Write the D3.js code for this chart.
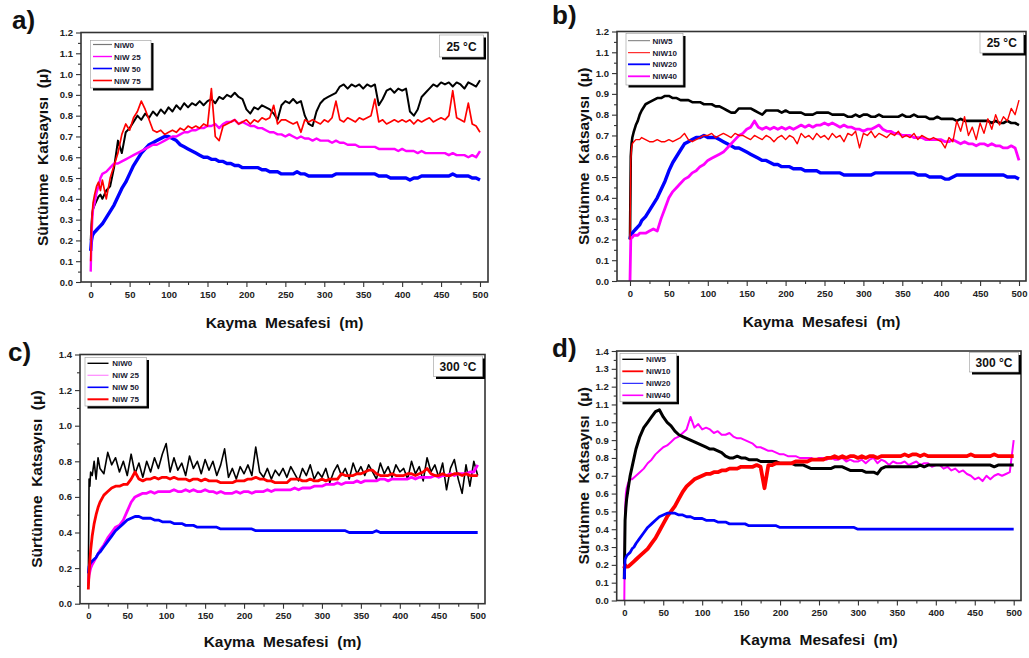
<!DOCTYPE html>
<html>
<head>
<meta charset="utf-8">
<script src="https://cdn.jsdelivr.net/npm/d3@7"></script>
<style>
  body { margin: 0; background: #fff; }
  svg { display: block; font-family: "Liberation Sans", Arial, sans-serif; font-weight: bold; }
</style>
</head>
<body>
<svg id="chart" width="1029" height="658"></svg>
<script>
// sliding distance (m), shared by every series
const dist = [0, 1, 2, 3, 5, 7.5, 10, 12.5, 15, 20, 25, 30, 35, 40, 45, 50,
  55, 60, 65, 70, 75, 80, 85, 90, 95, 100, 105, 110, 115, 120, 125, 130, 135, 140, 145, 150,
  155, 160, 165, 170, 175, 180, 185, 190, 195, 200, 205, 210, 215, 220, 225, 230, 235, 240, 245, 250,
  255, 260, 265, 270, 275, 280, 285, 290, 295, 300, 305, 310, 315, 320, 325, 330, 335, 340, 345, 350,
  355, 360, 365, 370, 375, 380, 385, 390, 395, 400, 405, 410, 415, 420, 425, 430, 435, 440, 445, 450,
  455, 460, 465, 470, 475, 480, 485, 490, 495, 500];

// a) 25 °C
const aNiW0 = [0.20,0.28,0.33,0.35,0.37,0.39,0.41,0.42,0.40,0.44,0.46,0.55,0.68,0.62,0.72,0.74,
  0.77,0.80,0.78,0.81,0.79,0.82,0.80,0.83,0.81,0.84, 0.82,0.85,0.83,0.86,0.84,0.86,0.85,0.87,0.85,0.87,
  0.88,0.86,0.89,0.88,0.90,0.89,0.91,0.89,0.88,0.83, 0.81,0.84,0.83,0.85,0.84,0.83,0.81,0.78,0.85,0.87,
  0.86,0.88,0.86,0.87,0.80,0.76,0.75,0.82,0.86,0.88, 0.89,0.90,0.91,0.94,0.95,0.93,0.95,0.94,0.95,0.93,
  0.95,0.94,0.95,0.85,0.88,0.92,0.93,0.91,0.93,0.92, 0.93,0.82,0.80,0.83,0.89,0.91,0.93,0.95,0.94,0.96,
  0.95,0.96,0.94,0.96,0.95,0.93,0.96,0.95,0.94,0.97];
const aNiW25 = [0.05,0.22,0.30,0.35,0.38,0.43,0.46,0.50,0.52,0.53,0.55,0.57,0.57,0.58,0.59,0.60,
  0.61,0.62,0.63,0.64,0.65,0.66,0.66,0.67,0.68,0.69, 0.70,0.70,0.71,0.72,0.72,0.73,0.73,0.74,0.74,0.75,
  0.75,0.76,0.74,0.76,0.77,0.77,0.78,0.76,0.77,0.76, 0.75,0.75,0.74,0.74,0.73,0.72,0.72,0.71,0.71,0.70,
  0.71,0.70,0.69,0.70,0.69,0.69,0.68,0.69,0.68,0.68, 0.68,0.67,0.68,0.67,0.67,0.66,0.66,0.66,0.65,0.65,
  0.65,0.65,0.65,0.64,0.64,0.64,0.64,0.64,0.63,0.64, 0.63,0.63,0.63,0.62,0.63,0.62,0.62,0.62,0.62,0.62,
  0.62,0.61,0.62,0.61,0.61,0.61,0.60,0.61,0.60,0.63];
const aNiW50 = [0.15,0.20,0.22,0.23,0.24,0.25,0.26,0.27,0.28,0.31,0.34,0.37,0.41,0.45,0.48,0.52,
  0.56,0.59,0.62,0.64,0.66,0.67,0.68,0.69,0.70,0.70, 0.69,0.68,0.66,0.65,0.64,0.63,0.62,0.61,0.60,0.60,
  0.59,0.59,0.58,0.58,0.57,0.57,0.56,0.56,0.55,0.55, 0.55,0.55,0.55,0.54,0.54,0.53,0.53,0.53,0.52,0.52,
  0.52,0.52,0.53,0.52,0.52,0.51,0.51,0.51,0.51,0.51, 0.51,0.51,0.52,0.52,0.52,0.52,0.52,0.52,0.52,0.52,
  0.52,0.52,0.52,0.51,0.51,0.51,0.50,0.50,0.50,0.50, 0.50,0.49,0.50,0.50,0.51,0.51,0.51,0.51,0.51,0.51,
  0.51,0.51,0.52,0.51,0.51,0.51,0.51,0.50,0.50,0.49];
const aNiW75 = [0.10,0.25,0.33,0.38,0.42,0.46,0.48,0.44,0.49,0.40,0.50,0.56,0.62,0.71,0.76,0.73,
  0.79,0.82,0.87,0.83,0.78,0.73,0.72,0.73,0.71,0.72, 0.73,0.72,0.74,0.73,0.75,0.74,0.75,0.74,0.76,0.75,
  0.93,0.70,0.68,0.75,0.76,0.77,0.78,0.76,0.77,0.78, 0.76,0.78,0.77,0.79,0.78,0.79,0.85,0.76,0.78,0.78,
  0.77,0.76,0.77,0.72,0.78,0.77,0.78,0.77,0.76,0.78, 0.77,0.79,0.87,0.78,0.77,0.79,0.78,0.77,0.79,0.78,
  0.79,0.80,0.88,0.77,0.78,0.76,0.77,0.78,0.77,0.78, 0.77,0.78,0.76,0.78,0.77,0.78,0.79,0.77,0.78,0.79,
  0.78,0.80,0.92,0.79,0.78,0.77,0.86,0.76,0.75,0.72];

// b) 25 °C
const bNiW5 = [0.20,0.60,0.66,0.69,0.72,0.75,0.77,0.80,0.82,0.85,0.86,0.87,0.88,0.88,0.89,0.89,
  0.88,0.88,0.87,0.87,0.87,0.86,0.86,0.86,0.85,0.85, 0.85,0.84,0.84,0.83,0.82,0.81,0.81,0.83,0.83,0.83,
  0.83,0.82,0.81,0.80,0.82,0.82,0.82,0.82,0.81,0.82, 0.81,0.81,0.81,0.81,0.80,0.80,0.80,0.81,0.81,0.81,
  0.81,0.80,0.80,0.80,0.80,0.79,0.79,0.80,0.79,0.80, 0.80,0.79,0.79,0.80,0.79,0.79,0.79,0.79,0.79,0.80,
  0.79,0.79,0.80,0.79,0.79,0.79,0.78,0.78,0.79,0.78, 0.78,0.78,0.78,0.77,0.78,0.77,0.77,0.77,0.77,0.77,
  0.77,0.77,0.76,0.77,0.76,0.76,0.77,0.76,0.76,0.75];
const bNiW10 = [0.20,0.58,0.64,0.66,0.67,0.68,0.68,0.68,0.69,0.68,0.67,0.67,0.68,0.67,0.67,0.68,
  0.67,0.68,0.69,0.71,0.68,0.67,0.68,0.69,0.70,0.70, 0.71,0.69,0.70,0.71,0.70,0.69,0.71,0.70,0.70,0.69,
  0.68,0.70,0.69,0.68,0.70,0.69,0.67,0.69,0.70,0.68, 0.70,0.69,0.66,0.71,0.69,0.70,0.68,0.71,0.69,0.70,
  0.68,0.71,0.69,0.70,0.67,0.71,0.70,0.72,0.64,0.71, 0.70,0.72,0.69,0.71,0.70,0.69,0.71,0.70,0.72,0.69,
  0.70,0.69,0.71,0.68,0.70,0.69,0.68,0.69,0.68,0.67, 0.64,0.69,0.67,0.77,0.72,0.79,0.70,0.74,0.68,0.76,
  0.71,0.78,0.73,0.80,0.75,0.79,0.77,0.83,0.80,0.87];
const bNiW20 = [0.20,0.22,0.23,0.23,0.24,0.25,0.26,0.27,0.29,0.31,0.34,0.37,0.40,0.44,0.48,0.53,
  0.57,0.60,0.63,0.66,0.67,0.68,0.69,0.69,0.70,0.69, 0.69,0.69,0.68,0.67,0.66,0.65,0.64,0.64,0.63,0.62,
  0.61,0.60,0.59,0.58,0.58,0.57,0.56,0.56,0.55,0.55, 0.55,0.54,0.54,0.54,0.53,0.53,0.53,0.53,0.52,0.52,
  0.52,0.52,0.52,0.52,0.51,0.51,0.51,0.51,0.51,0.51, 0.51,0.51,0.52,0.52,0.52,0.52,0.52,0.52,0.52,0.52,
  0.52,0.52,0.52,0.51,0.51,0.51,0.50,0.50,0.50,0.50, 0.49,0.49,0.50,0.51,0.51,0.51,0.51,0.51,0.51,0.51,
  0.51,0.51,0.51,0.51,0.51,0.51,0.50,0.50,0.50,0.49];
const bNiW40 = [0.00,0.20,0.21,0.21,0.22,0.22,0.22,0.23,0.23,0.23,0.24,0.25,0.24,0.30,0.35,0.40,
  0.43,0.45,0.47,0.49,0.50,0.52,0.53,0.55,0.56,0.58, 0.59,0.60,0.61,0.62,0.64,0.66,0.68,0.70,0.71,0.73,
  0.74,0.77,0.74,0.73,0.74,0.73,0.74,0.73,0.74,0.73, 0.74,0.73,0.74,0.75,0.74,0.75,0.74,0.75,0.75,0.76,
  0.75,0.76,0.75,0.74,0.75,0.74,0.74,0.73,0.73,0.72, 0.73,0.73,0.74,0.75,0.73,0.72,0.72,0.71,0.71,0.70,
  0.70,0.70,0.69,0.69,0.69,0.68,0.68,0.68,0.68,0.68, 0.67,0.67,0.68,0.67,0.66,0.67,0.66,0.66,0.65,0.66,
  0.66,0.65,0.66,0.65,0.65,0.64,0.64,0.65,0.64,0.58];

// c) 300 °C
const cNiW0 = [0.10,0.70,0.66,0.74,0.72,0.80,0.70,0.82,0.76,0.73,0.85,0.78,0.82,0.74,0.80,0.72,
  0.84,0.73,0.79,0.71,0.80,0.74,0.82,0.76,0.84,0.90, 0.74,0.82,0.75,0.79,0.72,0.83,0.76,0.80,0.73,0.81,
  0.75,0.80,0.72,0.78,0.87,0.71,0.76,0.70,0.77,0.73, 0.78,0.72,0.88,0.74,0.71,0.76,0.70,0.75,0.72,0.76,
  0.71,0.77,0.73,0.69,0.76,0.72,0.78,0.70,0.74,0.71, 0.76,0.68,0.74,0.78,0.72,0.76,0.70,0.79,0.73,0.77,
  0.72,0.78,0.74,0.70,0.79,0.73,0.77,0.71,0.78,0.74, 0.76,0.70,0.80,0.73,0.77,0.69,0.82,0.74,0.78,0.71,
  0.79,0.64,0.76,0.81,0.70,0.62,0.78,0.66,0.80,0.72];
const cNiW25 = [0.12,0.16,0.18,0.20,0.22,0.24,0.26,0.28,0.30,0.33,0.37,0.40,0.43,0.44,0.47,0.52,
  0.57,0.60,0.61,0.62,0.62,0.63,0.62,0.63,0.63,0.63, 0.63,0.64,0.63,0.63,0.64,0.63,0.64,0.63,0.63,0.64,
  0.63,0.63,0.62,0.63,0.62,0.62,0.62,0.63,0.62,0.63, 0.63,0.62,0.63,0.63,0.63,0.64,0.63,0.64,0.64,0.64,
  0.64,0.64,0.65,0.64,0.65,0.65,0.65,0.66,0.66,0.66, 0.67,0.67,0.67,0.68,0.67,0.68,0.68,0.68,0.69,0.68,
  0.69,0.69,0.69,0.69,0.70,0.70,0.69,0.70,0.70,0.70, 0.70,0.70,0.71,0.70,0.71,0.71,0.71,0.71,0.72,0.71,
  0.72,0.72,0.73,0.72,0.73,0.73,0.73,0.74,0.74,0.78];
const cNiW50 = [0.17,0.21,0.22,0.23,0.24,0.25,0.26,0.28,0.29,0.32,0.35,0.38,0.41,0.43,0.45,0.47,
  0.48,0.49,0.49,0.48,0.48,0.48,0.47,0.47,0.46,0.46, 0.46,0.45,0.45,0.45,0.44,0.44,0.44,0.43,0.43,0.43,
  0.43,0.43,0.43,0.42,0.42,0.42,0.42,0.42,0.42,0.42, 0.42,0.42,0.41,0.41,0.41,0.41,0.41,0.41,0.41,0.41,
  0.41,0.41,0.41,0.41,0.41,0.41,0.41,0.41,0.41,0.41, 0.41,0.41,0.41,0.41,0.41,0.41,0.40,0.40,0.40,0.40,
  0.40,0.40,0.40,0.41,0.40,0.40,0.40,0.40,0.40,0.40, 0.40,0.40,0.40,0.40,0.40,0.40,0.40,0.40,0.40,0.40,
  0.40,0.40,0.40,0.40,0.40,0.40,0.40,0.40,0.40,0.40];
const cNiW75 = [0.08,0.18,0.24,0.30,0.38,0.45,0.50,0.54,0.57,0.61,0.63,0.65,0.66,0.66,0.67,0.67,
  0.70,0.74,0.70,0.69,0.70,0.70,0.71,0.70,0.71,0.71, 0.70,0.71,0.70,0.70,0.70,0.69,0.70,0.70,0.69,0.70,
  0.69,0.69,0.69,0.68,0.68,0.68,0.68,0.69,0.69,0.69, 0.70,0.70,0.71,0.70,0.70,0.69,0.69,0.68,0.68,0.68,
  0.68,0.70,0.70,0.70,0.69,0.69,0.70,0.69,0.69,0.70, 0.69,0.70,0.70,0.70,0.73,0.72,0.72,0.72,0.73,0.73,
  0.74,0.75,0.75,0.73,0.72,0.72,0.72,0.73,0.72,0.72, 0.72,0.73,0.73,0.72,0.73,0.74,0.76,0.73,0.72,0.72,
  0.73,0.72,0.72,0.73,0.73,0.72,0.73,0.72,0.72,0.72];

// d) 300 °C
const dNiW5 = [0.12,0.45,0.52,0.57,0.63,0.70,0.75,0.80,0.85,0.92,0.97,1.00,1.03,1.06,1.07,1.03,
  1.00,0.98,0.95,0.93,0.92,0.91,0.90,0.89,0.88,0.87, 0.86,0.85,0.85,0.84,0.83,0.81,0.80,0.80,0.81,0.80,
  0.80,0.79,0.79,0.79,0.78,0.78,0.78,0.78,0.78,0.77, 0.77,0.77,0.77,0.76,0.76,0.76,0.75,0.74,0.74,0.74,
  0.74,0.74,0.74,0.75,0.75,0.75,0.74,0.73,0.73,0.73, 0.73,0.72,0.72,0.72,0.71,0.74,0.75,0.75,0.75,0.75,
  0.75,0.75,0.75,0.75,0.75,0.76,0.75,0.76,0.76,0.76, 0.76,0.76,0.76,0.76,0.76,0.76,0.76,0.76,0.76,0.76,
  0.76,0.76,0.76,0.76,0.75,0.76,0.76,0.76,0.76,0.76];
const dNiW10 = [0.18,0.20,0.19,0.19,0.19,0.20,0.21,0.22,0.23,0.25,0.27,0.29,0.32,0.35,0.39,0.43,
  0.47,0.50,0.53,0.57,0.61,0.64,0.66,0.68,0.69,0.70, 0.71,0.71,0.72,0.72,0.73,0.73,0.74,0.74,0.74,0.75,
  0.75,0.75,0.75,0.76,0.75,0.63,0.76,0.76,0.77,0.77, 0.77,0.77,0.77,0.78,0.78,0.78,0.78,0.79,0.79,0.79,
  0.79,0.80,0.80,0.81,0.80,0.81,0.80,0.81,0.81,0.80, 0.81,0.80,0.81,0.81,0.80,0.81,0.81,0.81,0.81,0.81,
  0.81,0.82,0.81,0.82,0.82,0.81,0.82,0.81,0.81,0.81, 0.81,0.81,0.81,0.81,0.81,0.81,0.81,0.81,0.82,0.81,
  0.81,0.81,0.81,0.81,0.82,0.81,0.81,0.81,0.81,0.81];
const dNiW20 = [0.12,0.23,0.24,0.25,0.26,0.27,0.29,0.30,0.32,0.35,0.38,0.41,0.43,0.45,0.47,0.48,
  0.49,0.49,0.49,0.48,0.48,0.47,0.47,0.46,0.46,0.46, 0.45,0.45,0.45,0.44,0.44,0.44,0.43,0.43,0.43,0.43,
  0.43,0.42,0.42,0.42,0.42,0.42,0.42,0.42,0.42,0.41, 0.41,0.41,0.41,0.41,0.41,0.41,0.41,0.41,0.41,0.41,
  0.41,0.41,0.41,0.41,0.41,0.41,0.41,0.41,0.41,0.40, 0.40,0.40,0.40,0.40,0.40,0.40,0.40,0.40,0.40,0.40,
  0.40,0.40,0.40,0.40,0.40,0.40,0.40,0.40,0.40,0.40, 0.40,0.40,0.40,0.40,0.40,0.40,0.40,0.40,0.40,0.40,
  0.40,0.40,0.40,0.40,0.40,0.40,0.40,0.40,0.40,0.40];
const dNiW40 = [0.00,0.50,0.60,0.63,0.66,0.68,0.68,0.69,0.70,0.72,0.74,0.77,0.79,0.82,0.84,0.86,
  0.87,0.89,0.91,0.92,0.94,0.96,1.03,0.97,0.99,0.96, 0.97,0.96,0.94,0.95,0.93,0.93,0.94,0.92,0.91,0.91,
  0.90,0.89,0.88,0.86,0.86,0.85,0.84,0.84,0.83,0.82, 0.82,0.81,0.81,0.81,0.80,0.80,0.80,0.80,0.79,0.80,
  0.80,0.79,0.80,0.79,0.79,0.80,0.78,0.79,0.78,0.78, 0.79,0.77,0.79,0.80,0.77,0.79,0.78,0.76,0.78,0.77,
  0.77,0.78,0.76,0.77,0.78,0.76,0.77,0.77,0.75,0.76, 0.76,0.74,0.75,0.73,0.74,0.72,0.73,0.71,0.70,0.68,
  0.69,0.67,0.70,0.68,0.70,0.71,0.70,0.71,0.72,0.90];

const xTicks = [0, 50, 100, 150, 200, 250, 300, 350, 400, 450, 500];

// layout per panel (pixel positions)
const panels = [
  { tag: "a)", tagX: 12, tagY: 29, temp: "25 °C", yMax: 1.2, yStep: 0.1, yMinor: 0.05,
    x0: 90.7, x1: 480, fl: 81, fr: 488, top: 32.5, bottom: 282,
    leg: [90.5, 40.5, 60.5, 47.5], legLine: [93, 112], legText: 114, legY: [44.5, 56.5, 68.5, 80.5],
    tbox: [439.5, 35, 44, 22], ytitleX: 43, xtitleY: 328,
    series: [
      { name: "NiW0", v: aNiW0, c: "#000", w: 2, lw: 1.2, lc: "#777" },
      { name: "NiW 25", v: aNiW25, c: "#ff00ff", w: 2.4, lw: 1.4 },
      { name: "NiW 50", v: aNiW50, c: "#0000ff", w: 3.4, lw: 1.6 },
      { name: "NiW 75", v: aNiW75, c: "#ff0000", w: 1.7, lw: 1.6 }
    ], order: [0, 2, 1, 3] },
  { tag: "b)", tagX: 552, tagY: 24, temp: "25 °C", yMax: 1.2, yStep: 0.1, yMinor: 0.05,
    x0: 630, x1: 1019, fl: 617, fr: 1026, top: 31.5, bottom: 281,
    leg: [626, 33.5, 57, 51.5], legLine: [628, 650], legText: 652.5, legY: [40.7, 52.7, 64.3, 76.3],
    tbox: [980, 32.5, 43.5, 20.5], ytitleX: 584, xtitleY: 327,
    series: [
      { name: "NiW5", v: bNiW5, c: "#000", w: 2.6, lw: 1, lc: "#777" },
      { name: "NiW10", v: bNiW10, c: "#ff0000", w: 1.4, lw: 1 },
      { name: "NiW20", v: bNiW20, c: "#0000ff", w: 3.4, lw: 1.8 },
      { name: "NiW40", v: bNiW40, c: "#ff00ff", w: 2.8, lw: 1.8 }
    ], order: [0, 2, 3, 1] },
  { tag: "c)", tagX: 8, tagY: 361, temp: "300 °C", yMax: 1.4, yStep: 0.2, yMinor: 0.1,
    x0: 88.3, x1: 477.7, fl: 80, fr: 485, top: 354.5, bottom: 603.7,
    leg: [85, 357.5, 61.5, 48.5], legLine: [87.5, 108.5], legText: 112.3, legY: [363.3, 375.3, 387.3, 399.3],
    tbox: [433.5, 356, 49, 20.5], ytitleX: 37, xtitleY: 647,
    series: [
      { name: "NiW0", v: cNiW0, c: "#000", w: 1.6, lw: 1.4 },
      { name: "NiW 25", v: cNiW25, c: "#ff00ff", w: 2.8, lw: 1.2, lc: "#ff88ff" },
      { name: "NiW 50", v: cNiW50, c: "#0000ff", w: 2.8, lw: 1.6 },
      { name: "NiW 75", v: cNiW75, c: "#ff0000", w: 2.8, lw: 2 }
    ], order: [0, 1, 2, 3] },
  { tag: "d)", tagX: 552, tagY: 357, temp: "300 °C", yMax: 1.4, yStep: 0.1, yMinor: 0.05,
    x0: 624.3, x1: 1013.7, fl: 616.7, fr: 1021, top: 351, bottom: 600.5,
    leg: [620, 353.3, 56.5, 48.5], legLine: [622.3, 643.3], legText: 646, legY: [359.3, 371.3, 383.3, 395.3],
    tbox: [969.5, 352.5, 49, 19.5], ytitleX: 584, xtitleY: 645,
    series: [
      { name: "NiW5", v: dNiW5, c: "#000", w: 3, lw: 1.4 },
      { name: "NiW10", v: dNiW10, c: "#ff0000", w: 3.8, lw: 1.8 },
      { name: "NiW20", v: dNiW20, c: "#0000ff", w: 2.8, lw: 1 },
      { name: "NiW40", v: dNiW40, c: "#ff00ff", w: 2, lw: 1.6 }
    ], order: [3, 0, 1, 2] }
];

const svg = d3.select("#chart");

function drawPanel(p) {
  const g = svg.append("g");
  const x = d3.scaleLinear().domain([0, 500]).range([p.x0, p.x1]);
  const y = d3.scaleLinear().domain([0, p.yMax]).range([p.bottom, p.top]);

  // minor ticks
  const xMinor = d3.range(25, 500, 50);
  const yMinorVals = d3.range(0, p.yMax + 1e-6, p.yMinor).filter(v => Math.abs(v / p.yStep - Math.round(v / p.yStep)) > 1e-6);

  g.append("g")
    .attr("transform", "translate(0," + p.bottom + ")")
    .call(d3.axisBottom(x).tickValues(xTicks).tickSize(5).tickPadding(4).tickFormat(d3.format("d")));
  g.append("g")
    .attr("transform", "translate(0," + p.bottom + ")")
    .call(d3.axisBottom(x).tickValues(xMinor).tickSize(3).tickFormat(""));

  const yTicks = d3.range(0, p.yMax + 1e-6, p.yStep).map(v => +v.toFixed(2));
  g.append("g")
    .attr("transform", "translate(" + p.fl + ",0)")
    .call(d3.axisLeft(y).tickValues(yTicks).tickSize(5).tickPadding(3).tickFormat(d3.format(".1f")));
  g.append("g")
    .attr("transform", "translate(" + p.fl + ",0)")
    .call(d3.axisLeft(y).tickValues(yMinorVals).tickSize(3).tickFormat(""));

  g.selectAll(".domain").remove();
  g.selectAll(".tick line").attr("stroke", "#333").attr("stroke-width", 1.1);
  g.selectAll(".tick text").attr("font-size", 9.5).attr("font-weight", "bold")
    .attr("font-family", "'Liberation Sans', Arial, sans-serif").attr("fill", "#222");

  // series
  const line = d3.line()
    .x((d, i) => x(dist[i]))
    .y(d => y(d));
  const clipId = "clip" + p.tag[0];
  g.append("clipPath").attr("id", clipId)
    .append("rect").attr("x", p.fl).attr("y", p.top).attr("width", p.fr - p.fl).attr("height", p.bottom - p.top);
  const lines = g.append("g").attr("clip-path", "url(#" + clipId + ")");
  p.order.forEach(k => {
    const s = p.series[k];
    lines.append("path")
      .datum(s.v)
      .attr("fill", "none")
      .attr("stroke", s.c)
      .attr("stroke-width", s.w)
      .attr("stroke-linejoin", "round")
      .attr("d", line);
  });

  // frame
  g.append("rect")
    .attr("x", p.fl).attr("y", p.top)
    .attr("width", p.fr - p.fl).attr("height", p.bottom - p.top)
    .attr("fill", "none").attr("stroke", "#333").attr("stroke-width", 1.6);

  // legend
  const [lx, ly, lw, lh] = p.leg;
  g.append("rect").attr("x", lx + 2.5).attr("y", ly + 2.5).attr("width", lw).attr("height", lh).attr("fill", "#000");
  g.append("rect").attr("x", lx).attr("y", ly).attr("width", lw).attr("height", lh)
    .attr("fill", "#fff").attr("stroke", "#999").attr("stroke-width", 0.6);
  p.series.forEach((s, i) => {
    g.append("line")
      .attr("x1", p.legLine[0]).attr("x2", p.legLine[1])
      .attr("y1", p.legY[i]).attr("y2", p.legY[i])
      .attr("stroke", s.lc || s.c).attr("stroke-width", s.lw);
    g.append("text")
      .attr("x", p.legText).attr("y", p.legY[i] + 3)
      .attr("font-size", 8).attr("fill", "#1a1a33")
      .text(s.name);
  });

  // temperature box
  const [tx, ty, tw, th] = p.tbox;
  g.append("rect").attr("x", tx + 2.5).attr("y", ty + 2.5).attr("width", tw).attr("height", th).attr("fill", "#000");
  g.append("rect").attr("x", tx).attr("y", ty).attr("width", tw).attr("height", th)
    .attr("fill", "#fff").attr("stroke", "#999").attr("stroke-width", 0.6);
  g.append("text")
    .attr("x", tx + tw / 2).attr("y", ty + th / 2 + 4.5)
    .attr("text-anchor", "middle").attr("font-size", 12).attr("fill", "#111")
    .text(p.temp);

  // axis titles
  g.append("text")
    .attr("x", (p.fl + p.fr) / 2).attr("y", p.xtitleY)
    .attr("text-anchor", "middle").attr("font-size", 15.5).attr("fill", "#111")
    .attr("xml:space", "preserve")
    .text("Kayma  Mesafesi  (m)");
  g.append("text")
    .attr("transform", "translate(" + p.ytitleX + "," + ((p.top + p.bottom) / 2) + ") rotate(-90)")
    .attr("text-anchor", "middle").attr("font-size", 15.5).attr("fill", "#111")
    .attr("dy", "0.35em")
    .attr("xml:space", "preserve")
    .text("Sürtünme  Katsayısı  (μ)");

  // panel tag
  g.append("text")
    .attr("x", p.tagX).attr("y", p.tagY)
    .attr("font-size", 26).attr("fill", "#111")
    .text(p.tag);
}

panels.forEach(drawPanel);
</script>
</body>
</html>
